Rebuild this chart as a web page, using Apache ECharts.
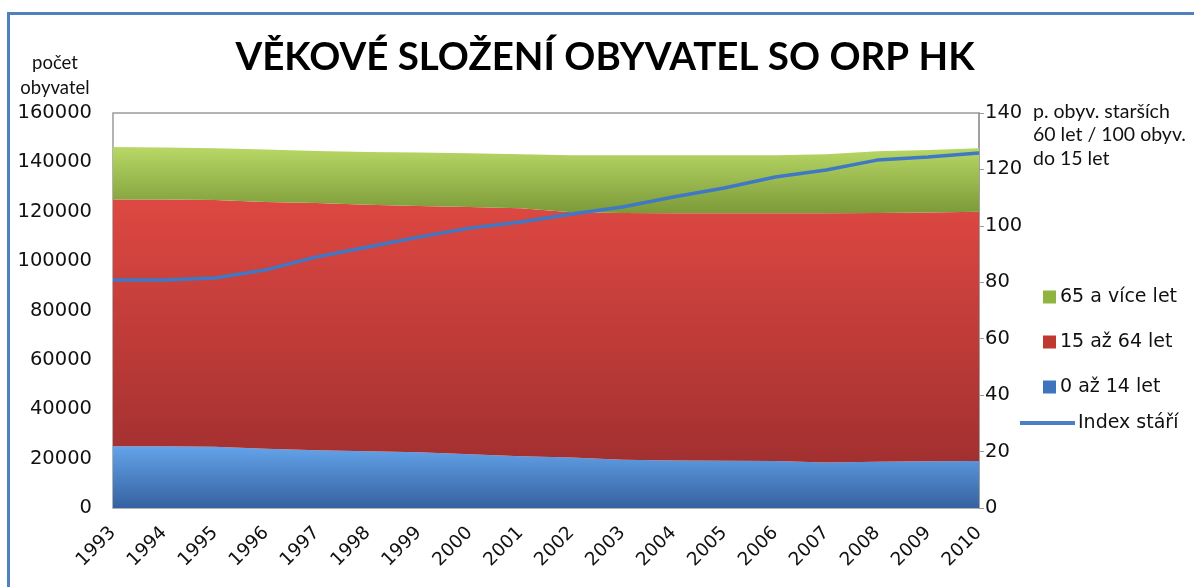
<!DOCTYPE html>
<html>
<head>
<meta charset="utf-8">
<script src="https://cdn.jsdelivr.net/npm/echarts@6/dist/echarts.min.js"></script>
<style>
  html, body { margin: 0; padding: 0; background: #fff; }
  #frame {
    position: absolute; left: 7px; top: 12px; width: 1200px; height: 600px;
    border: 3px solid #4f81bd; box-sizing: border-box;
  }
  #chart { position: absolute; left: 0; top: 0; width: 1194px; height: 587px; }
</style>
</head>
<body>
<div id="frame"></div>
<div id="chart"></div>
<script>
/* ---------- data ---------- */
const years = ['1993', '1994', '1995', '1996', '1997', '1998', '1999', '2000', '2001',
  '2002', '2003', '2004', '2005', '2006', '2007', '2008', '2009', '2010']
const age0to14 = [25000, 25000, 24800, 24000, 23400, 23000, 22600, 21800, 21000,
  20500, 19500, 19200, 19100, 19000, 18400, 18700, 18900, 19000]
const age15to64 = [100000, 100000, 100000, 100000, 100100, 99800, 99700, 100100, 100400,
  99300, 100000, 100200, 100300, 100400, 101000, 100800, 100800, 101000]
const age65plus = [21200, 21000, 20900, 21200, 21100, 21400, 21700, 21800, 21900,
  23100, 23400, 23500, 23500, 23500, 23900, 25000, 25300, 25700]
const indexStari = [80.8, 80.8, 81.5, 84.4, 89, 92.5, 96, 99.2, 101.4,
  104.2, 106.7, 110.2, 113.4, 117.3, 119.8, 123.3, 124.4, 125.8]

const labelFont = 'DejaVu Sans'
const textFont = 'Lato, "Open Sans", sans-serif'

function vGrad(top, bottom) {
  return new echarts.graphic.LinearGradient(0, 0, 0, 1, [
    { offset: 0, color: top },
    { offset: 1, color: bottom }
  ])
}

function areaSeries(name, data, top, bottom, legendColor) {
  return {
    name,
    type: 'line',
    stack: 'pop',
    data,
    symbol: 'none',
    lineStyle: { width: 0 },
    itemStyle: { color: legendColor },
    areaStyle: { color: vGrad(top, bottom), opacity: 1 }
  }
}

const chart = echarts.init(document.getElementById('chart'))
chart.setOption({
  animation: false,
  title: {
    text: 'VĚKOVÉ SLOŽENÍ OBYVATEL SO ORP HK',
    left: 600,
    textAlign: 'center',
    top: 33,
    textStyle: { fontFamily: textFont, fontSize: 38.5, fontWeight: 'bold', color: '#000' }
  },
  grid: { left: 113, right: 215, top: 113, bottom: 79, show: true, borderColor: '#9a9a9a', borderWidth: 1.5 },
  legend: [
    {
      data: ['65 a více let', '15 až 64 let', '0 až 14 let'],
      orient: 'vertical',
      left: 1038,
      top: 282,
      itemWidth: 13,
      itemHeight: 13,
      itemGap: 25,
      icon: 'rect',
      textStyle: { fontFamily: labelFont, fontSize: 19, color: '#111', lineHeight: 20, padding: [0, 0, 0, -1] }
    },
    {
      data: ['Index stáří'],
      left: 1015,
      top: 408,
      itemWidth: 55,
      itemHeight: 4,
      icon: 'rect',
      textStyle: { fontFamily: labelFont, fontSize: 19, color: '#111', lineHeight: 20, padding: [0, 0, 0, -2] }
    }
  ],
  xAxis: {
    type: 'category',
    data: years,
    boundaryGap: false,
    axisLine: { show: false },
    axisTick: { show: false },
    axisLabel: {
      rotate: 45,
      margin: 22,
      fontFamily: labelFont,
      fontSize: 18.5,
      color: '#111'
    }
  },
  yAxis: [
    {
      type: 'value',
      min: 0,
      max: 160000,
      interval: 20000,
      name: 'počet\nobyvatel',
      nameLocation: 'end',
      nameGap: 12,
      nameMoveOverlap: false,
      nameTextStyle: {
        fontFamily: textFont, fontSize: 18.5, color: '#111', lineHeight: 25,
        align: 'center', verticalAlign: 'bottom', padding: [0, 116, 0, 0]
      },
      splitLine: { show: false },
      axisLine: { show: false },
      axisTick: { show: false },
      axisLabel: {
        fontFamily: labelFont, fontSize: 19.5, color: '#111', margin: 21,
        formatter: (v) => String(v)
      }
    },
    {
      type: 'value',
      min: 0,
      max: 140,
      interval: 20,
      position: 'right',
      name: 'p. obyv. starších\n60 let / 100 obyv.\ndo 15 let',
      nameLocation: 'end',
      nameGap: -57,
      nameMoveOverlap: false,
      nameTextStyle: {
        fontFamily: textFont, fontSize: 19.5, color: '#111', lineHeight: 23.5,
        align: 'left', verticalAlign: 'bottom', padding: [0, 0, 0, 54]
      },
      splitLine: { show: false },
      axisLine: { show: true, lineStyle: { color: '#9a9a9a', width: 1.5 } },
      axisTick: { show: true, inside: false, length: 5, lineStyle: { color: '#9a9a9a' } },
      axisLabel: { fontFamily: labelFont, fontSize: 19.5, color: '#111', margin: 6 }
    }
  ],
  series: [
    areaSeries('0 až 14 let', age0to14, '#64a3ea', '#3562a0', '#3d74bd'),
    areaSeries('15 až 64 let', age15to64, '#de4842', '#a23030', '#c0392f'),
    areaSeries('65 a více let', age65plus, '#b8d866', '#7c9a38', '#8fb440'),
    {
      name: 'Index stáří',
      type: 'line',
      yAxisIndex: 1,
      data: indexStari,
      symbol: 'none',
      z: 5,
      lineStyle: { color: '#3f78c4', width: 3.5 },
      itemStyle: { color: '#4a7fc6' }
    }
  ]
})
</script>
</body>
</html>
